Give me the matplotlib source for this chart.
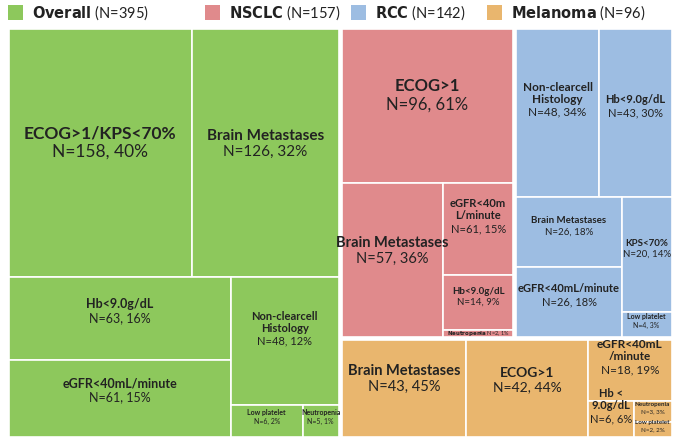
import matplotlib
matplotlib.use("Agg")
import matplotlib.pyplot as plt
from matplotlib.patches import Rectangle

plt.rcParams['font.family'] = ['Lato', 'DejaVu Sans']

# groups
groups = ["Overall", "NSCLC", "RCC", "Melanoma"]
group_n = [395, 157, 142, 96]
group_colors = ["#8dc85c", "#e08a8c", "#9dbde2", "#e9b66e"]

# items per group: label, N, percent
overall_labels = ["ECOG>1/KPS<70%", "Brain Metastases", "Hb<9.0g/dL", "eGFR<40mL/minute",
                  "Non-clearcell\nHistology", "Low platelet", "Neutropenia"]
overall_n = [158, 126, 63, 61, 48, 6, 5]
overall_pct = [40, 32, 16, 15, 12, 2, 1]

nsclc_labels = ["ECOG>1", "Brain Metastases", "eGFR<40m\nL/minute", "Hb<9.0g/dL", "Neutropenia"]
nsclc_n = [96, 57, 61, 14, 2]
nsclc_pct = [61, 36, 15, 9, 1]

rcc_labels = ["Non-clearcell\nHistology", "Hb<9.0g/dL", "Brain Metastases", "eGFR<40mL/minute",
              "KPS<70%", "Low platelet"]
rcc_n = [48, 43, 26, 26, 20, 4]
rcc_pct = [34, 30, 18, 18, 14, 3]

mel_labels = ["Brain Metastases", "ECOG>1", "eGFR<40mL\n/minute", "Hb <\n9.0g/dL", "Neutropenia", "Low platelet"]
mel_n = [43, 42, 18, 6, 3, 2]
mel_pct = [45, 44, 19, 6, 3, 2]

# text sizes (pt) per item
overall_fs = [12.5, 11, 9, 9, 8, 5, 5]
nsclc_fs = [12, 10.5, 8, 7, 4]
rcc_fs = [8.5, 8, 7, 8, 7, 5]
mel_fs = [10.5, 10, 8.5, 8, 4.5, 4.5]

# slicing structure ('h' = side by side, 'v' = stacked), leaves are item indices
overall_tree = ('v', [('h', [0, 1]), ('h', [('v', [2, 3]), ('v', [4, ('h', [5, 6])])])])
nsclc_tree = ('v', [0, ('h', [1, ('v', [2, 3, 4])])])
rcc_tree = ('v', [('h', [0, 1]), ('h', [('v', [2, 3]), ('v', [4, 5])])])
mel_tree = ('h', [0, 1, ('v', [2, ('h', [3, ('v', [4, 5])])])])


def weight(node, w):
    if isinstance(node, int):
        return w[node]
    return sum(weight(c, w) for c in node[1])


def layout(node, w, x, y, dx, dy, out):
    if isinstance(node, int):
        out[node] = (x, y, dx, dy)
        return
    kind, kids = node
    tot = weight(node, w)
    pos = 0
    for k in kids:
        f = weight(k, w) / tot
        if kind == 'h':
            layout(k, w, x + pos * dx, y, f * dx, dy, out)
        else:
            layout(k, w, x, y + pos * dy, dx, f * dy, out)
        pos += f


fig = plt.figure(figsize=(6.8, 4.38), dpi=100)
ax = fig.add_axes([0, 0, 1, 1])
ax.set_xlim(0, 680)
ax.set_ylim(438, 0)
ax.axis('off')

# top level: overall | (NSCLC RCC / Melanoma)
top_tree = ('h', [0, ('v', [('h', [1, 2]), 3])])
boxes = {}
layout(top_tree, group_n, 7, 27, 666, 411, boxes)

data = [
    (overall_labels, overall_n, overall_pct, overall_fs, overall_tree),
    (nsclc_labels, nsclc_n, nsclc_pct, nsclc_fs, nsclc_tree),
    (rcc_labels, rcc_n, rcc_pct, rcc_fs, rcc_tree),
    (mel_labels, mel_n, mel_pct, mel_fs, mel_tree),
]

for gi, (labels, ns, pcts, fss, tree) in enumerate(data):
    gx, gy, gw, gh = boxes[gi]
    gx, gy, gw, gh = gx + 1.5, gy + 1.5, gw - 3, gh - 3
    rects = {}
    layout(tree, pcts, gx, gy, gw, gh, rects)
    for i, (x, y, w, h) in rects.items():
        ax.add_patch(Rectangle((x, y), w, h, facecolor=group_colors[gi],
                               edgecolor='white', linewidth=1.2))
        cx, cy = x + w / 2, y + h / 2
        fs = fss[i]
        stat = f"N={ns[i]}, {pcts[i]}%"
        if gi == 1 and labels[i] == "Neutropenia":
            ax.text(cx, cy, f"$\\bf{{Neutropenia}}$ {stat}", fontsize=fs,
                    ha='center', va='center', color='#222222')
            continue
        lh = fs * 1.35 / 0.72
        ax.text(cx, cy - lh * 0.5, labels[i], fontsize=fs, fontweight='bold',
                ha='center', va='bottom', color='#222222', linespacing=1.1)
        ax.text(cx, cy - lh * 0.5 + 2, stat, fontsize=fs, ha='center', va='top',
                color='#222222')

# legend
leg_x = [8, 205, 351, 487]
for gi, g in enumerate(groups):
    ax.add_patch(Rectangle((leg_x[gi], 5), 15, 15, facecolor=group_colors[gi], edgecolor='none'))
    ax.text(leg_x[gi] + 24, 13, f"$\\bf{{{g}}}$ (N={group_n[gi]})", fontsize=10.5,
            ha='left', va='center', color='#222222')

fig.savefig("out.png", dpi=100)
